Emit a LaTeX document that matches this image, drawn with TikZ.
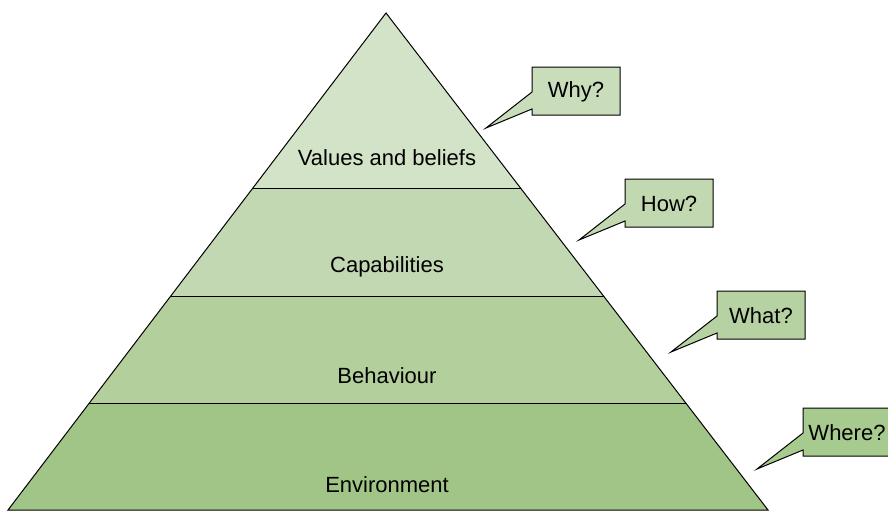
\documentclass[tikz,border=0pt]{standalone}
\usepackage{fontspec}
\setmainfont{Liberation Sans}
\definecolor{bandA}{HTML}{D2E3C7}
\definecolor{bandB}{HTML}{C2D8B2}
\definecolor{bandC}{HTML}{B2CF9C}
\definecolor{bandD}{HTML}{A1C586}
\definecolor{callA}{HTML}{CADDBA}
\definecolor{callB}{HTML}{C2D8B0}
\definecolor{callC}{HTML}{B6D2A2}
\definecolor{callD}{HTML}{A7CA8E}
\begin{document}
\begin{tikzpicture}[x=1pt,y=-1pt,
  band/.style={draw=black,line width=1pt,line join=miter},
  lbl/.style={font=\fontsize{22}{26}\selectfont,inner sep=0pt,anchor=center},
  callbox/.style={draw=black,line width=1pt,line join=miter}]
\useasboundingbox (0,0) rectangle (888,511);
% pyramid points
\coordinate (apex) at (386,13);
\coordinate (l1) at (252.9,188); \coordinate (r1) at (520.5,188);
\coordinate (l2) at (170.8,296); \coordinate (r2) at (603.5,296);
\coordinate (l3) at (89.4,403);  \coordinate (r3) at (685.8,403);
\coordinate (bl) at (8,510);     \coordinate (br) at (768,510);
\fill[bandA] (apex) -- (r1) -- (l1) -- cycle;
\fill[bandB] (l1) -- (r1) -- (r2) -- (l2) -- cycle;
\fill[bandC] (l2) -- (r2) -- (r3) -- (l3) -- cycle;
\fill[bandD] (l3) -- (r3) -- (br) -- (bl) -- cycle;
\draw[band] (l1) -- (r1);
\draw[band] (l2) -- (r2);
\draw[band] (l3) -- (r3);
\draw[band] (apex) -- (br) -- (bl) -- cycle;
\node[lbl] (vals) at (387,158) {Values and beliefs};
\node[lbl] (caps) at (387,267) {Capabilities};
\node[lbl] (beh) at (387,376) {Behaviour};
\node[lbl] (env) at (387,485) {Environment};
% callouts
\foreach \nm/\L/\T/\col in {why/532/67/callA, how/625/179/callB, what/717/291/callC, where/803/408/callD}{
  \coordinate (\nm tl) at (\L,\T);
  \coordinate (\nm tr) at (\L+88,\T);
  \coordinate (\nm br) at (\L+88,\T+48);
  \coordinate (\nm bl) at (\L,\T+48);
  \coordinate (\nm lo) at (\L,\T+42);
  \coordinate (\nm tip) at (\L-46,\T+61);
  \coordinate (\nm up) at (\L,\T+25);
  \filldraw[callbox,fill=\col] (\nm tl) -- (\nm tr) -- (\nm br) -- (\nm bl) -- (\nm lo) -- (\nm tip) -- (\nm up) -- cycle;
}
\node[lbl] (whyt) at (576,92) {Why?};
\node[lbl] (howt) at (669,204) {How?};
\node[lbl] (whatt) at (761,316) {What?};
\node[lbl] (wheret) at (847,433) {Where?};
\end{tikzpicture}
\end{document}
